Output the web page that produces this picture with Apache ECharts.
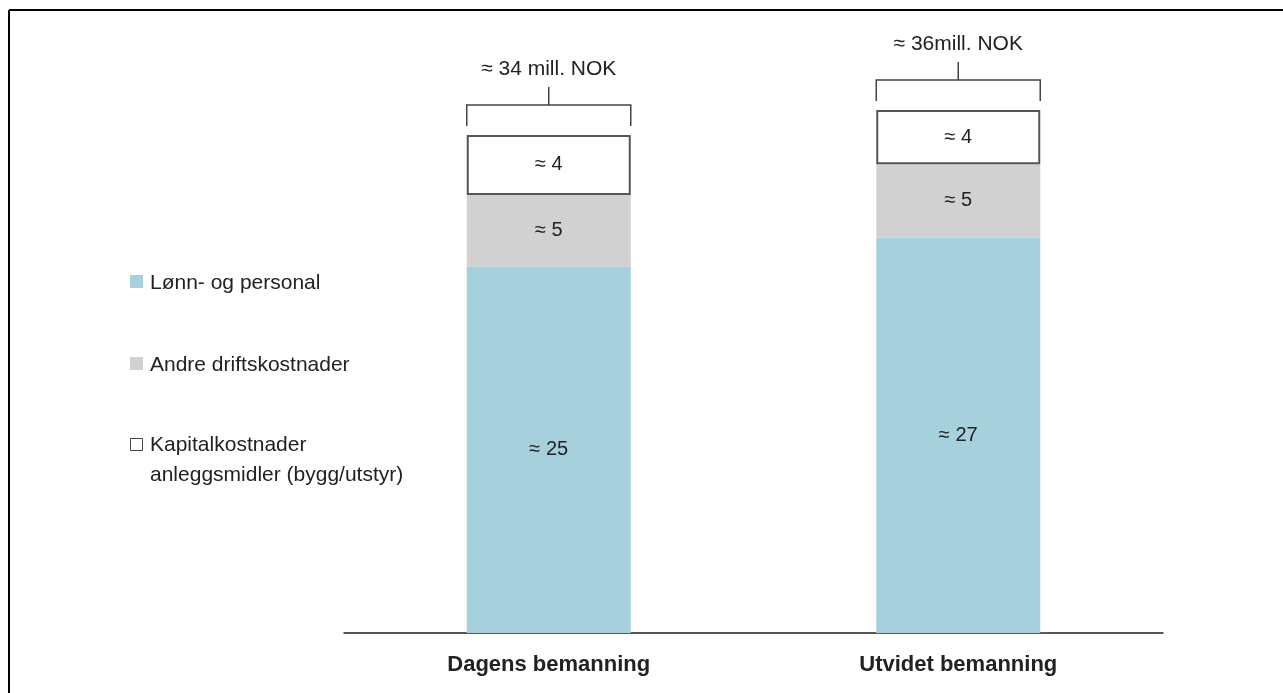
<!DOCTYPE html>
<html>
<head>
<meta charset="utf-8">
<script src="https://cdn.jsdelivr.net/npm/echarts@6/dist/echarts.min.js"></script>
<style>
  html, body { margin: 0; padding: 0; background: #fff; }
  #chart { width: 1283px; height: 693px; }
</style>
</head>
<body>
<div id="chart"></div>
<script>
var categories = ['Dagens bemanning', 'Utvidet bemanning'];
var lonn = [25, 27];
var andre = [4.9, 5];
var kapital = [4.1, 3.7];
var totalLabels = ['\u2248 34 mill. NOK', '\u2248 36mill. NOK'];
var legendNames = ['Lønn- og personal', 'Andre driftskostnader', 'Kapitalkostnader\nanleggsmidler (bygg/utstyr)'];

var totals = lonn.map(function (v, i) { return v + andre[i] + kapital[i]; });

var chart = echarts.init(document.getElementById('chart'));
var font = '"Liberation Sans", Arial, sans-serif';

function segLabel() {
    return {
        show: true,
        position: 'inside',
        color: '#222',
        fontSize: 20,
        fontFamily: font,
        formatter: function (p) { return '\u2248 ' + Math.round(p.value); }
    };
}

var option = {
    animation: false,
    grid: { left: 344, right: 120, top: 47, bottom: 60 },
    xAxis: {
        type: 'category',
        data: categories,
        axisLine: { lineStyle: { color: '#222', width: 1.5 } },
        axisTick: { show: false },
        axisLabel: { color: '#222', fontSize: 22, fontWeight: 'bold', fontFamily: font, margin: 21 }
    },
    yAxis: { type: 'value', min: 0, max: 40, show: false, splitLine: { show: false } },
    series: [
        {
            name: legendNames[0], type: 'bar', stack: 'a', data: lonn, barWidth: 164,
            itemStyle: { color: '#a7d0dd' }, label: segLabel()
        },
        {
            name: legendNames[1], type: 'bar', stack: 'a', data: andre, barWidth: 164,
            itemStyle: { color: '#d0d1d0' }, label: segLabel()
        },
        {
            name: legendNames[2], type: 'bar', stack: 'a', data: kapital, barWidth: 164,
            itemStyle: { color: '#fff', borderColor: '#555', borderWidth: 2 }, label: segLabel()
        },
        {
            type: 'custom',
            data: totals,
            z: 10,
            renderItem: function (params, api) {
                var pt = api.coord([api.value(0), api.value(1)]);
                var x = pt[0], top = pt[1];
                var hw = 82, by = top - 30;
                var ls = { stroke: '#444', lineWidth: 1.5, fill: 'none' };
                return {
                    type: 'group',
                    children: [
                        { type: 'polyline', shape: { points: [[x - hw, top - 9], [x - hw, by], [x + hw, by], [x + hw, top - 9]] }, style: ls },
                        { type: 'line', shape: { x1: x, y1: by, x2: x, y2: by - 18 }, style: ls },
                        { type: 'text', x: x, y: by - 36, style: {
                            text: totalLabels[params.dataIndex], fill: '#222', fontSize: 21, fontFamily: font,
                            align: 'center', verticalAlign: 'middle' } }
                    ]
                };
            },
            encode: { x: 0, y: 1 }
        }
    ],
    graphic: [
        { type: 'line', shape: { x1: 9, y1: 10, x2: 1283, y2: 10 }, style: { stroke: '#000', lineWidth: 2 } },
        { type: 'line', shape: { x1: 9, y1: 10, x2: 9, y2: 693 }, style: { stroke: '#000', lineWidth: 2 } },
        { type: 'rect', shape: { x: 130, y: 275, width: 13, height: 13 }, style: { fill: '#a7d0dd' } },
        { type: 'text', x: 150, y: 283, style: { text: legendNames[0], fill: '#222', fontSize: 21, fontFamily: font, verticalAlign: 'middle' } },
        { type: 'rect', shape: { x: 130, y: 357, width: 13, height: 13 }, style: { fill: '#d0d1d0' } },
        { type: 'text', x: 150, y: 365, style: { text: legendNames[1], fill: '#222', fontSize: 21, fontFamily: font, verticalAlign: 'middle' } },
        { type: 'rect', shape: { x: 130.5, y: 438.5, width: 12, height: 12 }, style: { fill: '#fff', stroke: '#444', lineWidth: 1 } },
        { type: 'text', x: 150, y: 430, style: { text: legendNames[2], fill: '#222', fontSize: 21, fontFamily: font, lineHeight: 30, verticalAlign: 'top' } }
    ]
};

chart.setOption(option);
</script>
</body>
</html>
